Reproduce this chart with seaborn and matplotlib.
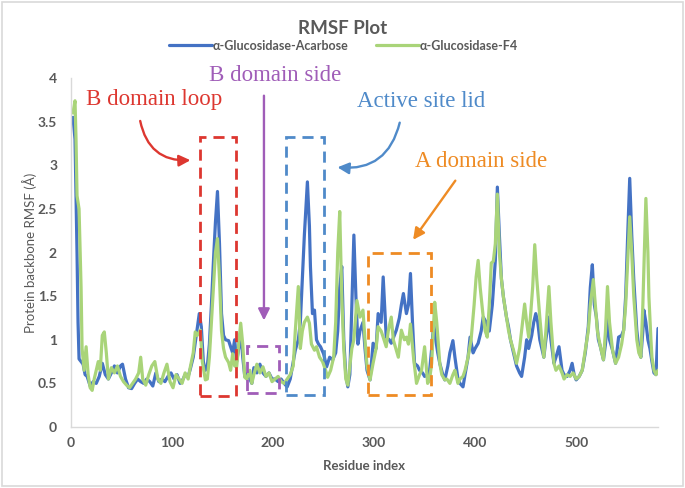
"""
RMSF plot of the alpha-glucosidase complexes, redrawn with seaborn.
"""

import matplotlib

matplotlib.use('Agg')

import matplotlib.pyplot as plt
import matplotlib.ticker as mticker
import pandas as pd
import seaborn as sns
from matplotlib.patches import FancyArrowPatch, Rectangle


# ---- data ---------------------------------------------------------------
ACARBOSE_RES = [
    2, 4, 5, 6, 7, 8, 10, 12, 14, 16, 19, 22, 25, 28, 31, 34, 37, 40, 43,
    46, 49, 51, 54, 57, 60, 63, 66, 69, 72, 75, 78, 81, 84, 87, 90, 93, 96,
    99, 102, 105, 108, 111, 113, 116, 118, 121, 124, 127, 129, 131, 133,
    135, 137, 139, 141, 143, 145, 147, 149, 151, 153, 156, 158, 160, 162,
    164, 166, 168, 170, 172, 175, 177, 179, 181, 184, 187, 190, 193, 196,
    199, 202, 205, 208, 211, 214, 217, 220, 222, 225, 227, 229, 231, 233,
    234, 236, 237, 239, 241, 243, 245, 247, 250, 253, 256, 259, 262, 264,
    266, 268, 270, 272, 274, 276, 278, 280, 282, 284, 286, 289, 291, 293,
    296, 299, 302, 304, 307, 309, 312, 315, 317, 320, 322, 325, 327, 329,
    332, 334, 336, 338, 340, 343, 345, 348, 350, 353, 355, 357, 359, 361,
    363, 365, 368, 370, 373, 375, 378, 380, 383, 385, 388, 390, 393, 395,
    398, 400, 403, 406, 408, 411, 414, 417, 420, 422, 424, 426, 428, 431,
    433, 435, 438, 441, 444, 446, 449, 451, 453, 456, 458, 460, 462, 464,
    466, 468, 470, 473, 475, 478, 480, 483, 486, 488, 491, 494, 496, 498,
    500, 503, 506, 509, 512, 514, 516, 518, 520, 522, 524, 527, 529, 531,
    533, 536, 539, 542, 545, 547, 549, 551, 553, 555, 557, 560, 562, 564,
    566, 567, 569, 571, 573, 575, 577, 579, 581,
]
ACARBOSE_RMSF = [
    3.55, 3.30, 2.65, 2.00, 1.20, 0.78, 0.75, 0.72, 0.60, 0.58, 0.47, 0.52,
    0.50, 0.58, 0.73, 0.60, 0.55, 0.62, 0.70, 0.62, 0.70, 0.72, 0.55, 0.45,
    0.44, 0.50, 0.55, 0.52, 0.50, 0.55, 0.52, 0.47, 0.62, 0.52, 0.55, 0.52,
    0.58, 0.62, 0.55, 0.60, 0.50, 0.55, 0.60, 0.58, 0.66, 0.80, 1.05, 1.30,
    1.15, 0.75, 0.65, 0.70, 0.95, 1.40, 1.90, 2.35, 2.70, 2.10, 1.30, 1.05,
    1.00, 0.99, 0.92, 0.85, 1.00, 0.75, 0.90, 1.10, 0.80, 0.58, 0.62, 0.55,
    0.50, 0.68, 0.62, 0.72, 0.62, 0.58, 0.62, 0.55, 0.55, 0.52, 0.55, 0.50,
    0.46, 0.55, 0.75, 0.88, 1.00, 1.20, 1.70, 2.20, 2.60, 2.81, 2.30, 1.84,
    1.30, 1.34, 1.00, 0.95, 0.92, 0.84, 0.69, 0.80, 0.77, 0.85, 1.10, 1.60,
    1.84, 1.00, 0.60, 0.46, 0.60, 1.40, 2.20, 1.50, 0.95, 1.10, 1.20, 0.90,
    0.65, 0.54, 0.96, 0.90, 1.30, 1.20, 1.72, 1.03, 1.00, 0.96, 1.05, 1.11,
    1.25, 1.40, 1.53, 1.30, 1.40, 1.76, 1.20, 0.73, 0.70, 0.65, 0.62, 0.58,
    0.60, 0.65, 0.90, 1.18, 1.00, 0.85, 0.73, 0.60, 0.54, 0.70, 0.85, 0.99,
    0.80, 0.55, 0.50, 0.46, 0.60, 0.80, 1.03, 0.85, 0.90, 0.96, 1.10, 1.26,
    1.20, 1.10, 1.40, 1.91, 2.75, 2.20, 1.70, 1.49, 1.26, 1.15, 1.00, 0.85,
    0.70, 0.62, 0.58, 0.80, 1.00, 0.90, 1.05, 1.20, 1.30, 1.20, 1.00, 0.90,
    0.80, 1.00, 1.26, 1.00, 0.73, 0.80, 0.92, 0.65, 0.60, 0.58, 0.65, 0.73,
    0.60, 0.54, 0.58, 0.65, 0.85, 1.15, 1.60, 1.86, 1.40, 1.26, 1.00, 0.92,
    0.77, 0.95, 1.26, 1.00, 0.88, 0.73, 1.03, 1.05, 1.11, 1.50, 2.20, 2.85,
    2.20, 1.69, 1.11, 0.90, 0.80, 1.10, 1.34, 1.20, 1.00, 0.90, 0.75, 0.62,
    0.60, 1.13,
]

F4_RES = [
    2, 4, 5, 6, 8, 10, 11, 13, 15, 17, 19, 21, 23, 25, 27, 29, 31, 33, 35,
    37, 40, 43, 46, 49, 52, 55, 58, 61, 64, 67, 69, 71, 74, 77, 80, 83, 86,
    89, 92, 95, 98, 101, 104, 107, 110, 113, 116, 118, 121, 123, 125, 128,
    130, 133, 135, 137, 139, 141, 143, 145, 147, 149, 151, 153, 156, 158,
    160, 162, 164, 166, 168, 170, 172, 174, 177, 179, 181, 184, 187, 190,
    193, 196, 199, 202, 205, 208, 211, 214, 217, 220, 222, 225, 227, 229,
    231, 234, 236, 238, 241, 243, 246, 249, 252, 254, 257, 260, 262, 264,
    266, 268, 270, 272, 274, 276, 278, 280, 283, 286, 289, 291, 293, 296,
    299, 302, 304, 307, 309, 312, 314, 317, 319, 321, 324, 327, 330, 332,
    334, 336, 339, 342, 345, 347, 350, 353, 355, 357, 359, 360, 362, 365,
    367, 370, 372, 375, 378, 380, 383, 385, 388, 390, 393, 396, 399, 401,
    403, 405, 408, 410, 412, 414, 416, 418, 420, 422, 424, 426, 428, 431,
    433, 435, 438, 441, 444, 447, 449, 451, 453, 455, 457, 459, 461, 464,
    466, 468, 470, 473, 475, 478, 480, 483, 486, 488, 491, 494, 497, 500,
    503, 506, 509, 512, 514, 517, 519, 521, 524, 527, 529, 531, 533, 536,
    539, 542, 545, 547, 549, 551, 553, 555, 557, 560, 562, 564, 566, 568,
    569, 571, 572, 574, 575, 577, 579, 581,
]
F4_RMSF = [
    3.60, 3.74, 3.30, 2.65, 2.50, 1.60, 0.90, 0.65, 0.92, 0.60, 0.45, 0.42,
    0.55, 0.65, 0.75, 0.65, 1.05, 1.09, 0.85, 0.55, 0.68, 0.62, 0.70, 0.58,
    0.52, 0.48, 0.45, 0.50, 0.55, 0.62, 0.80, 0.55, 0.48, 0.60, 0.70, 0.75,
    0.55, 0.50, 0.62, 0.72, 0.52, 0.45, 0.60, 0.55, 0.50, 0.62, 0.55, 0.68,
    0.85, 1.09, 1.05, 1.11, 0.75, 0.54, 0.55, 0.80, 1.20, 1.60, 2.00, 2.16,
    1.70, 1.10, 0.90, 0.80, 0.74, 0.65, 0.84, 0.70, 0.69, 0.95, 1.19, 0.95,
    0.57, 0.55, 0.65, 0.50, 0.60, 0.72, 0.62, 0.69, 0.58, 0.62, 0.52, 0.55,
    0.58, 0.52, 0.50, 0.55, 0.60, 0.70, 1.10, 1.61, 0.90, 1.10, 1.20, 1.26,
    1.19, 0.95, 0.88, 0.92, 0.80, 0.75, 0.65, 0.57, 0.65, 0.80, 1.20, 2.00,
    2.47, 1.50, 0.90, 0.55, 0.48, 0.70, 0.90, 1.00, 1.45, 1.26, 1.34, 1.00,
    0.70, 0.54, 0.73, 0.90, 1.15, 1.10, 1.03, 0.92, 1.10, 1.26, 1.00, 0.92,
    0.80, 1.11, 1.00, 1.03, 0.95, 1.18, 0.80, 0.50, 0.60, 0.65, 0.92, 0.50,
    0.55, 0.73, 1.20, 1.43, 1.20, 0.73, 0.60, 0.54, 0.55, 0.50, 0.60, 0.65,
    0.50, 0.55, 0.58, 0.65, 0.80, 1.00, 1.40, 1.72, 1.91, 1.60, 1.26, 1.10,
    1.03, 1.40, 1.88, 1.90, 2.10, 2.67, 2.00, 1.70, 1.49, 1.26, 1.11, 1.00,
    0.88, 0.73, 0.90, 1.20, 1.41, 1.20, 1.03, 1.30, 1.61, 2.09, 1.70, 1.26,
    1.00, 0.80, 1.10, 1.61, 1.20, 0.73, 0.65, 0.70, 0.62, 0.55, 0.60, 0.58,
    0.62, 0.55, 0.58, 0.65, 0.88, 1.10, 1.40, 1.69, 1.40, 1.10, 0.92, 0.77,
    1.10, 1.61, 1.20, 0.88, 0.73, 0.80, 0.95, 1.11, 1.40, 1.90, 2.41, 2.00,
    1.50, 1.00, 0.85, 0.80, 1.40, 2.20, 2.62, 2.00, 1.49, 1.00, 0.80, 0.65,
    0.60, 0.65,
]

SERIES_NAMES = ['α-Glucosidase-Acarbose', 'α-Glucosidase-F4']
SERIES_COLORS = ['#4472C4', '#A9D479']

X_TICKS = [0, 100, 200, 300, 400, 500]
Y_TICKS = [0, 0.5, 1, 1.5, 2, 2.5, 3, 3.5, 4]

# region callouts: label, colour, text centre, arrow start/end, arrow bend, box x0/x1/y0/y1
REGION_LABELS = ['B domain loop', 'B domain side', 'Active site lid', 'A domain side']
REGION_COLORS = ['#DD3730', '#A05DB8', '#4F8AC9', '#EE8B24']
REGION_TEXT_XY = [(82, 3.76), (202, 4.03), (347, 3.73), (406, 3.04)]
REGION_ARROW_FROM = [(68, 3.54), (191, 3.83), (326, 3.52), (382, 2.85)]
REGION_ARROW_TO = [(121, 3.06), (191, 1.19), (261, 2.98), (337, 2.12)]
REGION_ARROW_RAD = [0.45, 0.0, -0.45, 0.0]
REGION_BOXES = [
    (128, 163, 0.35, 3.33),
    (174, 206, 0.39, 0.93),
    (213, 250, 0.37, 3.33),
    (294, 356, 0.37, 2.00),
]

TEXT_GREY = '#595959'
AXIS_GREY = '#D9D9D9'


def configure_rcparams() -> None:
    sns.set_style('white')
    plt.rcParams.update(
        {
            'font.family': ['Lato', 'DejaVu Sans'],
            'font.size': 10,
            'axes.edgecolor': AXIS_GREY,
        }
    )


def build_frame() -> pd.DataFrame:
    acarbose = pd.DataFrame(
        {'residue': ACARBOSE_RES, 'rmsf': ACARBOSE_RMSF, 'system': SERIES_NAMES[0]}
    )
    f4 = pd.DataFrame({'residue': F4_RES, 'rmsf': F4_RMSF, 'system': SERIES_NAMES[1]})
    return pd.concat([acarbose, f4], ignore_index=True)


def style_axis(ax) -> None:
    sns.despine(ax=ax)
    for side in ('left', 'bottom'):
        ax.spines[side].set_color(AXIS_GREY)
        ax.spines[side].set_linewidth(1.0)

    ax.set_xlim(0, 581)
    ax.set_ylim(0, 4)
    ax.xaxis.set_major_locator(mticker.FixedLocator(X_TICKS))
    ax.yaxis.set_major_locator(mticker.FixedLocator(Y_TICKS))
    ax.yaxis.set_major_formatter(mticker.FuncFormatter(lambda v, _: f'{v:g}'))
    ax.tick_params(length=0, labelsize=10, labelcolor=TEXT_GREY)
    ax.tick_params(axis='x', pad=7)
    ax.tick_params(axis='y', pad=10)
    for lab in ax.get_xticklabels() + ax.get_yticklabels():
        lab.set_fontweight('bold')

    ax.set_xlabel('Residue index', fontsize=9.5, fontweight='bold', color=TEXT_GREY, labelpad=8)
    ax.set_ylabel('Protein backbone RMSF (Å)', fontsize=9.5, color=TEXT_GREY)
    ax.yaxis.set_label_coords(-0.058, 0.5)
    ax.grid(False)


def annotate_regions(ax) -> None:
    for label, color, text_xy, start, end, rad, box in zip(
        REGION_LABELS,
        REGION_COLORS,
        REGION_TEXT_XY,
        REGION_ARROW_FROM,
        REGION_ARROW_TO,
        REGION_ARROW_RAD,
        REGION_BOXES,
    ):
        ax.text(
            *text_xy,
            label,
            color=color,
            fontsize=16.5,
            family=['Liberation Serif', 'DejaVu Serif'],
            ha='center',
            va='center',
            clip_on=False,
        )
        ax.add_patch(
            FancyArrowPatch(
                start,
                end,
                connectionstyle=f'arc3,rad={rad}',
                arrowstyle='-|>',
                mutation_scale=17,
                color=color,
                lw=1.7,
                clip_on=False,
            )
        )
        x0, x1, y0, y1 = box
        ax.add_patch(
            Rectangle(
                (x0, y0),
                x1 - x0,
                y1 - y0,
                fill=False,
                edgecolor=color,
                linewidth=2.0,
                linestyle=(0, (4, 2.5)),
                zorder=5,
            )
        )


def main() -> None:
    configure_rcparams()

    data = build_frame()

    fig, ax = plt.subplots(figsize=(6.85, 4.88), dpi=100)
    fig.subplots_adjust(left=0.1036, right=0.9606, bottom=0.125, top=0.840)

    sns.lineplot(
        data=data,
        x='residue',
        y='rmsf',
        hue='system',
        hue_order=SERIES_NAMES,
        palette=SERIES_COLORS,
        estimator=None,
        linewidth=2.3,
        ax=ax,
    )

    style_axis(ax)
    annotate_regions(ax)

    handles, labels = ax.get_legend_handles_labels()
    ax.get_legend().remove()
    leg = fig.legend(
        handles,
        labels,
        loc='center',
        bbox_to_anchor=(0.502, 0.906),
        ncol=2,
        frameon=False,
        handlelength=3.4,
        handletextpad=0.1,
        columnspacing=2.2,
        prop={'weight': 'bold', 'size': 9},
    )
    for text in leg.get_texts():
        text.set_color(TEXT_GREY)

    fig.suptitle('RMSF Plot', x=0.5, y=0.958, fontsize=13.5, fontweight='bold', color=TEXT_GREY)

    fig.patches.append(
        Rectangle(
            (0.003, 0.004),
            0.994,
            0.992,
            transform=fig.transFigure,
            fill=False,
            edgecolor=AXIS_GREY,
            linewidth=1.2,
        )
    )

    fig.savefig('out.png', dpi=100)


if __name__ == '__main__':
    main()
